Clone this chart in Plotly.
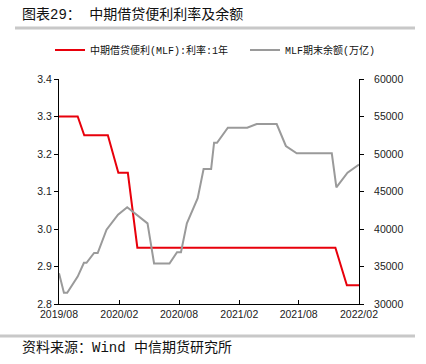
import plotly.graph_objects as go

rate_dates = ["2019-08-01", "2019-09-27", "2019-10-17", "2019-12-28", "2020-01-29",
              "2020-02-27", "2020-03-27", "2021-11-21", "2021-12-26", "2022-02-01"]
rate_values = [3.30, 3.30, 3.25, 3.25, 3.15, 3.15, 2.95, 2.95, 2.85, 2.85]

bal_dates = ["2019-08-01", "2019-08-16", "2019-08-26", "2019-09-27", "2019-10-16", "2019-10-24",
             "2019-11-16", "2019-11-27", "2019-12-24", "2020-01-28", "2020-02-25", "2020-04-27",
             "2020-05-17", "2020-07-03", "2020-07-26", "2020-08-07", "2020-08-25", "2020-09-27",
             "2020-10-15", "2020-11-07", "2020-11-16", "2020-11-25", "2020-12-28", "2021-02-25",
             "2021-03-26", "2021-05-26", "2021-06-23", "2021-07-26", "2021-11-10", "2021-11-24",
             "2021-12-28", "2022-02-01"]
bal_values = [34100, 31500, 31500, 33650, 35500, 35500, 36800, 36800, 39900, 41900, 42900, 40750,
              35400, 35400, 36900, 36900, 40750, 44100, 48000, 48000, 51500, 51500, 53500, 53500,
              54000, 54000, 51070, 50100, 50100, 45550, 47500, 48600]

tick_dates = ["2019-08-01", "2020-02-01", "2020-08-01", "2021-02-01", "2021-08-01", "2022-02-01"]
tick_labels = ["2019/08", "2020/02", "2020/08", "2021/02", "2021/08", "2022/02"]

FONT = "Liberation Mono, Noto Sans CJK SC, sans-serif"
TICKFONT = dict(family="Liberation Sans, Arial, sans-serif", size=10.5, color="#222222")
W, H = 426, 364
L, R, T, B = 59, 67, 79, 60
PW, PH = W - L - R, H - T - B


def px(x):
    return (x - L) / PW


def py(y):
    return (H - B - y) / PH


fig = go.Figure()
fig.add_trace(go.Scatter(x=rate_dates, y=rate_values, mode="lines",
                         name="中期借贷便利(MLF):利率:1年", legend="legend",
                         line=dict(color="#e8000b", width=2)))
fig.add_trace(go.Scatter(x=bal_dates, y=bal_values, mode="lines",
                         name="MLF期末余额(万亿)", yaxis="y2", legend="legend2",
                         line=dict(color="#9a9a9a", width=2)))

leg_common = dict(orientation="h", xref="container", yref="container",
                  xanchor="left", y=(H - 50) / H, yanchor="middle",
                  font=dict(size=10, color="#111111", family=FONT),
                  bgcolor="rgba(0,0,0,0)", itemwidth=30)

fig.update_layout(
    width=W, height=H,
    margin=dict(l=L, r=R, t=T, b=B, autoexpand=False),
    paper_bgcolor="white", plot_bgcolor="white",
    font=dict(family=FONT, size=10, color="#222222"),
    showlegend=True,
    legend=dict(x=50 / W, **leg_common),
    legend2=dict(x=245 / W, **leg_common),
    xaxis=dict(type="date", range=["2019-08-01", "2022-02-01"],
               tickmode="array", tickvals=tick_dates, ticktext=tick_labels,
               showgrid=False, zeroline=False, showline=True, linecolor="#000000",
               linewidth=1, ticks="inside", ticklen=4, tickcolor="#000000",
               tickfont=TICKFONT),
    yaxis=dict(range=[2.8, 3.4], dtick=0.1, tickformat=".1f", showgrid=False,
               zeroline=False, showline=True, linecolor="#000000", linewidth=1,
               ticks="outside", ticklen=4, tickcolor="#000000", tickfont=TICKFONT),
    yaxis2=dict(range=[30000, 60000], dtick=5000, tickformat="d", overlaying="y", side="right",
                showgrid=False, zeroline=False, showline=True, linecolor="#000000",
                linewidth=1, ticks="outside", ticklen=4, tickcolor="#000000",
                tickfont=TICKFONT, ticklabelstandoff=8),
)

fig.add_annotation(text="图表29： 中期借贷便利利率及余额", xref="paper", yref="paper",
                   x=px(20), y=py(15), xanchor="left", yanchor="middle",
                   showarrow=False, font=dict(size=14, color="#111111"))
fig.add_annotation(text="资料来源：Wind 中信期货研究所", xref="paper", yref="paper",
                   x=px(20), y=py(347), xanchor="left", yanchor="middle",
                   showarrow=False, font=dict(size=14, color="#111111"))

# separator bars
fig.add_shape(type="line", xref="paper", yref="paper",
              x0=px(15), x1=px(415), y0=py(28), y1=py(28),
              line=dict(color="#c8c8c8", width=3))
fig.add_shape(type="line", xref="paper", yref="paper",
              x0=px(0), x1=px(415), y0=py(336), y1=py(336),
              line=dict(color="#c8c8c8", width=3))

fig.write_html("out.html", config={"displayModeBar": False},
               post_script="document.body.style.margin='0';")
